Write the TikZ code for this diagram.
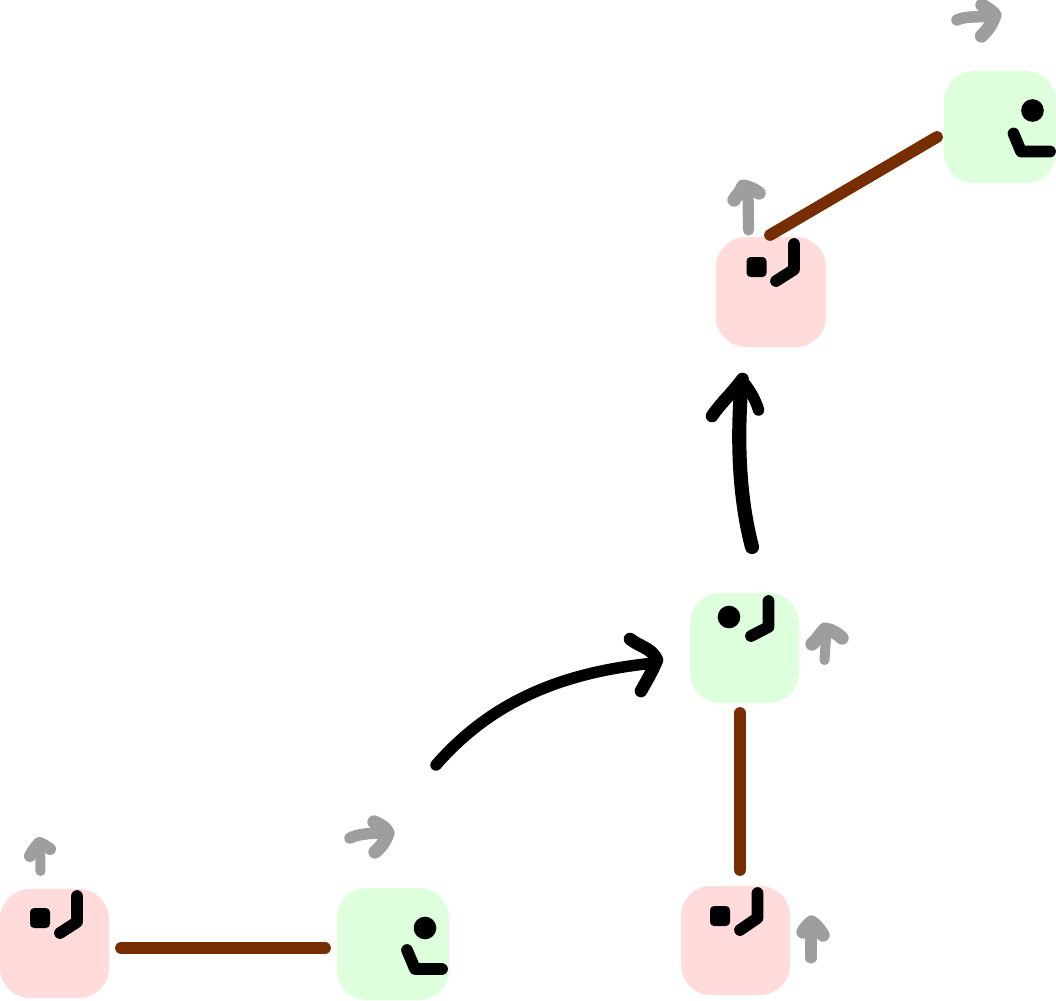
\documentclass[tikz,border=0pt]{standalone}
\definecolor{pinkbox}{HTML}{FFDBDB}
\definecolor{greenbox}{HTML}{DEFFDB}
\definecolor{linkbrown}{HTML}{762E00}
\definecolor{motiongray}{HTML}{9E9E9E}
\tikzset{
  px/.style={x=0.75pt,y=-0.75pt},
  bodybox/.style={rounded corners=22.5pt,inner sep=0pt,outer sep=0pt},
  pinkbody/.style={bodybox,fill=pinkbox},
  greenbody/.style={bodybox,fill=greenbox},
  link/.style={draw=linkbrown,line width=8.8pt,line cap=round},
  limb/.style={draw=black,line width=8.8pt,line cap=round,line join=round},
  motion/.style={draw=motiongray,line width=7.5pt,line cap=round,line join=round},
  motionhead/.style={draw=motiongray,line width=9pt,line cap=round,line join=round},
  heavy/.style={draw=black,line width=8.6pt,line cap=round,line join=round},
  heavier/.style={draw=black,line width=10.6pt,line cap=round,line join=round},
  dotmark/.style={circle,fill=black,minimum size=17pt,inner sep=0pt},
  squaremark/.style={rectangle,rounded corners=3pt,fill=black,minimum size=15pt,inner sep=0pt}
}
\begin{document}
\begin{tikzpicture}[px]
\useasboundingbox (0,0) rectangle (1056,1000);
% bodies
\fill[pinkbody] (0,889) rectangle (109,998);
\fill[greenbody] (337,888) rectangle (449,1000);
\fill[pinkbody] (681,886) rectangle (790,995);
\fill[greenbody] (690,593) rectangle (799,703);
\fill[pinkbody] (716,237) rectangle (826,347);
\fill[greenbody] (944,71) rectangle (1056,183);
% named link ends
\coordinate (a1) at (121,948); \coordinate (a2) at (325,948);
\coordinate (b1) at (740,870); \coordinate (b2) at (740,713);
\coordinate (c1) at (770,235); \coordinate (c2) at (937,137);
\draw[link] (a1) -- (a2);
\draw[link] (b1) -- (b2);
\draw[link] (c1) -- (c2);
% marks
\node[squaremark] (s1) at (40,918) {};
\node[dotmark] (d1) at (425,928) {};
\node[squaremark] (s2) at (720,916) {};
\node[dotmark] (d2) at (729,617) {};
\node[squaremark] (s3) at (756.5,267) {};
\node[dotmark] (d3) at (1032.5,110.5) {};
% limbs
\draw[limb] (77,896) -- (77,922) -- (60,933);
\draw[limb] (407,950) -- (415,969) -- (442,969);
\draw[limb] (757.5,893) -- (757.5,918) -- (740,930);
\draw[limb] (768.5,601) -- (768.5,627) -- (751,636);
\draw[limb] (794,244) -- (794,269.5) -- (776,281);
\draw[limb] (1013.5,133.5) -- (1021,151.5) -- (1050,151.5);
% grey motion arrows
\draw[motion] (40.5,871) -- (40,842);
\draw[motionhead] (30,856) .. controls (33,850) and (36,847) .. (39,843) .. controls (43,844) and (47,847) .. (50,849);
\draw[motion,line width=8.6pt] (350,838) .. controls (358,834) and (370,833) .. (386,833);
\draw[motionhead,line width=10pt] (374,822) .. controls (381,825) and (386,828) .. (388,833) .. controls (385,842) and (380,848) .. (375,852);
\draw[motion,line width=8.4pt] (811,958) -- (811,925);
\draw[motionhead,line width=10pt] (803,932) .. controls (805,928) and (808,925) .. (811.5,922) .. controls (816,925) and (820,930) .. (823,935);
\draw[motion] (824.5,660) -- (826.5,630);
\draw[motionhead,line width=10pt] (812,644) .. controls (817,640) and (820,634) .. (825,629) .. controls (832,630) and (838,634) .. (842,638);
\draw[motion,line width=8.4pt] (748.5,230) -- (748,190);
\draw[motionhead,line width=10pt] (734,200) .. controls (737,195) and (741,192) .. (743,186) .. controls (749,187) and (755,190) .. (759,193);
\draw[motion,line width=8.6pt] (957,20) .. controls (965,16) and (978,17) .. (993,16.5);
\draw[motionhead,line width=10pt] (982,5) .. controls (988,9) and (992,11) .. (995,15) .. controls (992,24) and (987,31) .. (981.5,36);
% black arrows
\coordinate (e1) at (436,765); \coordinate (e2) at (655,663);
\draw[heavy] (e1) .. controls (490,703) and (560,672) .. (e2);
\draw[heavy,line width=9.5pt] (630,639) .. controls (640,647) and (652,648) .. (657,660) .. controls (652,672) and (646,682) .. (641,691);
\coordinate (f1) at (752,547); \coordinate (f2) at (741.5,384);
\draw[heavier] (f1) .. controls (741,505) and (736,450) .. (f2);
\draw[heavy,line width=9.5pt] (712,416) .. controls (720,404) and (733,392) .. (742.5,379);
\draw[heavy] (745,384) .. controls (751,392) and (756,401) .. (758.5,410);
\end{tikzpicture}
\end{document}
